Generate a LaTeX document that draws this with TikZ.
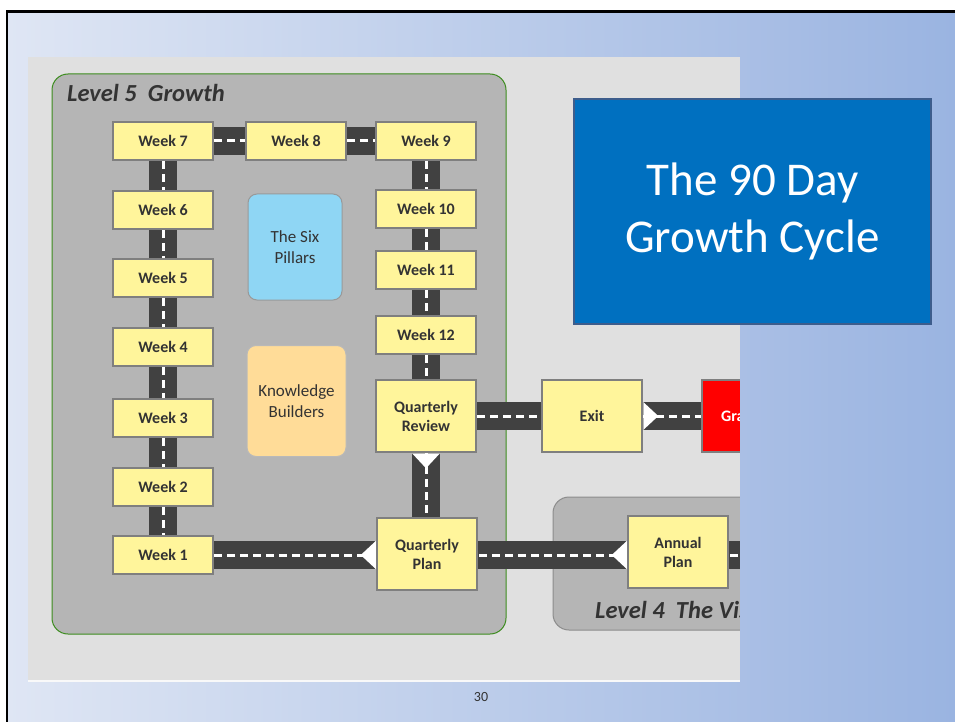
\documentclass[tikz,border=0pt]{standalone}
\usepackage{fontspec}
\setmainfont{Carlito}
\usetikzlibrary{calc}
\definecolor{roadc}{HTML}{414141}
\definecolor{weekfill}{HTML}{FFF59B}
\definecolor{boxedge}{HTML}{7F7F7F}
\definecolor{txt}{HTML}{333333}
\definecolor{panel}{HTML}{E0E0E0}
\definecolor{lvl}{HTML}{B5B5B5}
\definecolor{lvlgreen}{HTML}{3C8C1E}
\definecolor{lvlgray}{HTML}{8C8C8C}
\definecolor{pillar}{HTML}{8FD6F4}
\definecolor{knowl}{HTML}{FFDC98}
\definecolor{titleblue}{HTML}{0070C0}
\definecolor{titleedge}{HTML}{3D5D8C}
\definecolor{slideL}{HTML}{DFE6F4}
\definecolor{slideM}{HTML}{AABFE5}
\definecolor{slideR}{HTML}{9AB4E1}
\pgfdeclarelayer{back}
\pgfdeclarelayer{roads}
\pgfdeclarelayer{front}
\pgfsetlayers{back,roads,main,front}
\tikzset{
 week/.style={draw=boxedge, fill=weekfill, line width=2.5pt, minimum width=100pt, minimum height=38pt, inner sep=0pt, font=\fontsize{16}{19}\selectfont\bfseries, text=txt, align=center},
 bigweek/.style={week, minimum height=72pt},
 road/.style={draw=roadc, line width=28pt, postaction={draw=white, line width=3pt, dash pattern=on 8pt off 5pt}},
 tipwhite/.style={fill=white, draw=none},
 soft/.style={line width=1pt, rounded corners=9pt, inner sep=0pt, font=\fontsize{17}{21}\selectfont, text=txt, align=center},
 lvlbox/.style={fill=lvl, rounded corners=16pt, line width=1pt, inner sep=0pt},
 lvltitle/.style={font=\fontsize{24.5}{28}\selectfont\bfseries\itshape, text=txt, anchor=base west, inner sep=0pt},
}
\begin{document}
\begin{tikzpicture}[x=1pt,y=-1pt]
\useasboundingbox (0,0) rectangle (955,722);
% background layer
\begin{pgfonlayer}{back}
\fill[white] (0,0) rectangle (955,722);
\shade[left color=slideL, right color=slideR] (6,11) rectangle (955,722);
\fill[panel] (28,57) rectangle (740,680);
\draw[white!95!gray, line width=2pt] (28,681) -- (740,681);
\node[lvlbox, draw=lvlgreen, minimum width=454pt, minimum height=560pt] (l5) at (279,354) {};
\node[lvlbox, draw=lvlgray, minimum width=320pt, minimum height=133pt] (l4) at (713,563.5) {};
\node[lvltitle] (l5t) at (67,102) {Level 5\ \ Growth};
\node[lvltitle] (l4t) at (595,618) {Level 4\ \ The Vision};
\end{pgfonlayer}
% boxes
\node[week] (w7) at (163,141) {Week 7};
\node[week] (w6) at (163,210) {Week 6};
\node[week] (w5) at (163,278) {Week 5};
\node[week] (w4) at (163,347) {Week 4};
\node[week] (w3) at (163,418) {Week 3};
\node[week] (w2) at (163,487) {Week 2};
\node[week] (w1) at (163,555) {Week 1};
\node[week] (w8) at (296,141) {Week 8};
\node[week] (w9) at (426,141) {Week 9};
\node[week] (w10) at (426,209) {Week 10};
\node[week] (w11) at (426,270) {Week 11};
\node[week] (w12) at (426,335) {Week 12};
\node[bigweek] (qr) at (426,416) {Quarterly\\Review};
\node[bigweek] (qp) at (427,554) {Quarterly\\Plan};
\node[bigweek] (ex) at (592,416) {Exit};
\node[bigweek, fill=red, text=white] (gr) at (752,416) {Graduate};
\node[bigweek] (ap) at (678,552) {Annual\\Plan};
\coordinate (apend) at (800,555);
\node[soft, draw=gray!80, fill=pillar, minimum width=94pt, minimum height=106pt] (six) at (295,247) {The Six\\Pillars};
\node[soft, draw=gray!55, fill=knowl, minimum width=99pt, minimum height=111pt] (kb) at (296.5,401) {Knowledge\\Builders};
% roads
\begin{pgfonlayer}{roads}
\draw[road] (w7) -- (w6);
\draw[road] (w6) -- (w5);
\draw[road] (w5) -- (w4);
\draw[road] (w4) -- (w3);
\draw[road] (w3) -- (w2);
\draw[road] (w2) -- (w1);
\draw[road] (w7) -- (w8);
\draw[road] (w8) -- (w9);
\draw[road] (w9) -- (w10);
\draw[road] (w10) -- (w11);
\draw[road] (w11) -- (w12);
\draw[road] (w12) -- (qr);
\draw[road] (qr) -- (qr |- qp);
\draw[road] (w1) -- (w1 -| qp);
\draw[road] (w1 -| qp) -- (w1 -| ap);
\draw[road] (w1 -| ap) -- (apend);
\draw[road] (qr) -- (ex);
\draw[road] (ex) -- (gr);
\fill[tipwhite] ($(qr.south)+(-14,0)$) -- ($(qr.south)+(14,0)$) -- ($(qr.south)+(0,15)$) -- cycle;
\fill[tipwhite] ($(w1 -| qp.west)+(0,-14)$) -- ($(w1 -| qp.west)+(0,14)$) -- ($(w1 -| qp.west)+(-15,0)$) -- cycle;
\fill[tipwhite] ($(w1 -| ap.west)+(0,-14)$) -- ($(w1 -| ap.west)+(0,14)$) -- ($(w1 -| ap.west)+(-15,0)$) -- cycle;
\fill[tipwhite] ($(ex.east)+(0,-14)$) -- ($(ex.east)+(0,14)$) -- ($(ex.east)+(15,0)$) -- cycle;
\end{pgfonlayer}
% front: slide strip covering right side, title box, border
\begin{pgfonlayer}{front}
\shade[left color=slideM, right color=slideR] (740,11) rectangle (955,722);
\node[draw=titleedge, line width=1.5pt, fill=titleblue, minimum width=357pt, minimum height=225pt, text=white, align=center, font=\fontsize{47}{57}\selectfont] (title) at (752.5,211.5) {The 90 Day\\Growth Cycle};
\node[font=\fontsize{14}{16}\selectfont, text=txt] (pg) at (481,697) {30};
\draw[black, line width=2.6pt] (7,722) -- (7,11.3) -- (955,11.3);
\end{pgfonlayer}
\end{tikzpicture}
\end{document}
